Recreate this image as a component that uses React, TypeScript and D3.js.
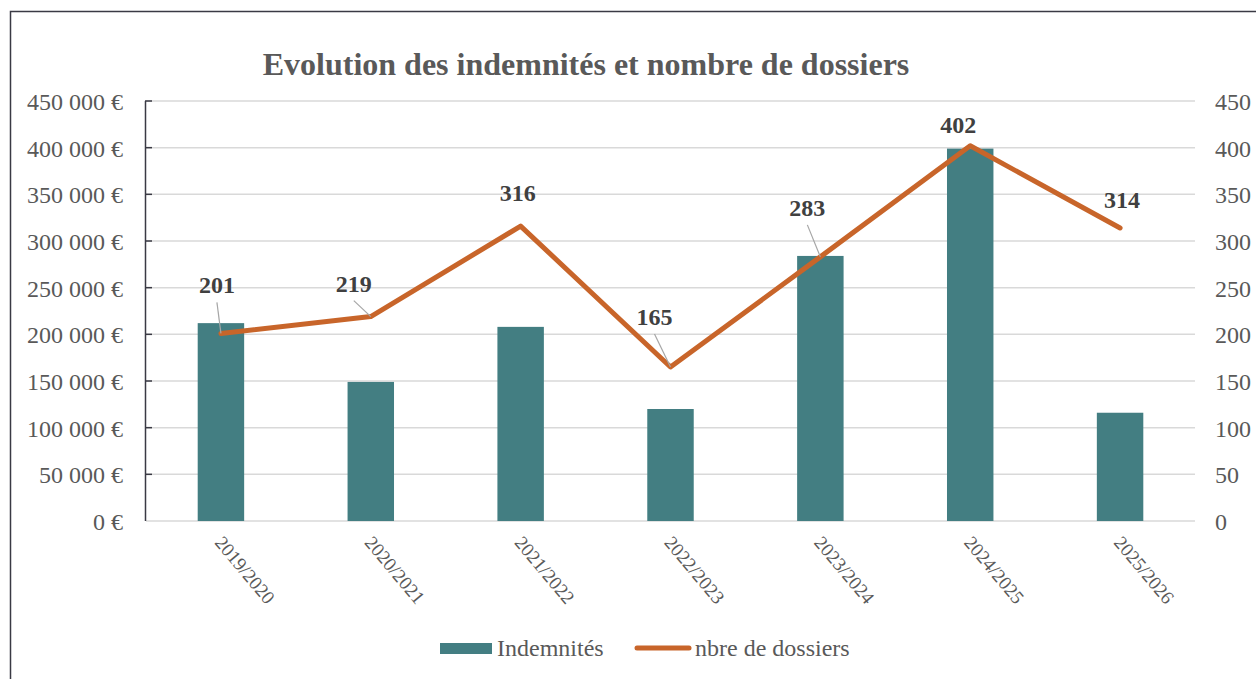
import React from "react";
import * as d3 from "d3";

const categories = ["2019/2020", "2020/2021", "2021/2022", "2022/2023", "2023/2024", "2024/2025", "2025/2026"];
const indemnites = [212000, 149000, 208000, 120000, 284000, 399000, 116000];
const dossiers = [201, 219, 316, 165, 283, 402, 314];
const leftTicks = [0, 50000, 100000, 150000, 200000, 250000, 300000, 350000, 400000, 450000];
const rightTicks = [0, 50, 100, 150, 200, 250, 300, 350, 400, 450];
// label offsets relative to point (dx, dy of label center/baseline) and whether leader line is drawn
const labelOffsets: [number, number, boolean][] = [
  [-4, -40, true],
  [-17, -25, true],
  [-3, -25, false],
  [-16, -42, true],
  [-13, -41, true],
  [-12, -13, false],
  [2, -20, false],
];

const W = 1256, H = 679;
const left = 146, right = 1195, top = 101, bottom = 521;
const TEAL = "#437E82";
const ORANGE = "#C8652A";
const TXT = "#595959";
const FONT = "'Liberation Serif', 'Times New Roman', serif";

export default function App() {
  const xc = d3.scaleBand<string>().domain(categories).range([left, right]);
  const yL = d3.scaleLinear().domain([0, 450000]).range([bottom, top]);
  const yR = d3.scaleLinear().domain([0, 450]).range([bottom, top]);
  const cx = (c: string) => (xc(c) as number) + xc.bandwidth() / 2;
  const line = d3.line<number>().x((_, i) => cx(categories[i])).y((d) => yR(d));
  const fmt = (v: number) => (v === 0 ? "0 €" : d3.format(",")(v).replace(/,/g, " ") + " €");
  const bw = xc.bandwidth() * 0.31;

  return (
    <svg width={W} height={H} style={{ position: "absolute", left: 0, top: 0, background: "#fff" }} fontFamily={FONT}>
      <rect x={0} y={0} width={W} height={H} fill="#fff" />
      <path d={`M10.5,${H} L10.5,11.5 L${W},11.5`} fill="none" stroke="#3a3a44" strokeWidth={1.5} />
      <text x={586} y={75} textAnchor="middle" fontSize={32} fontWeight="bold" fill={TXT}>
        Evolution des indemnités et nombre de dossiers
      </text>
      {leftTicks.map((t) => (
        <line key={"g" + t} x1={left} x2={right} y1={yL(t)} y2={yL(t)} stroke="#d9d9d9" strokeWidth={1.5} />
      ))}
      <line x1={145.5} x2={145.5} y1={top} y2={bottom} stroke="#3a3a44" strokeWidth={1.5} />
      {leftTicks.filter((t) => t > 0).map((t) => (
        <line key={"t" + t} x1={145} x2={152} y1={yL(t)} y2={yL(t)} stroke="#3a3a44" strokeWidth={1.5} />
      ))}
      {leftTicks.map((t) => (
        <text key={"l" + t} x={123} y={yL(t) + 9} textAnchor="end" fontSize={24} fill={TXT}>
          {fmt(t)}
        </text>
      ))}
      {rightTicks.map((t) => (
        <text key={"r" + t} x={1215} y={yR(t) + 9} textAnchor="start" fontSize={24} fill={TXT}>
          {t}
        </text>
      ))}
      {categories.map((c, i) => (
        <rect key={"b" + c} x={cx(c) - bw / 2} y={yL(indemnites[i])} width={bw} height={bottom - yL(indemnites[i])} fill={TEAL} />
      ))}
      {categories.map((c) => (
        <text key={"x" + c} transform={`translate(${cx(c) - 7},${bottom + 22}) rotate(50)`} fontSize={19} fill={TXT} textAnchor="start">
          {c}
        </text>
      ))}
      <path d={line(dossiers) as string} fill="none" stroke={ORANGE} strokeWidth={5} strokeLinejoin="round" strokeLinecap="round" />
      {dossiers.map((d, i) => {
        const px = cx(categories[i]);
        const py = yR(d);
        const [dx, dy, leader] = labelOffsets[i];
        const lx = px + dx;
        const ly = py + dy;
        return (
          <g key={"d" + i}>
            {leader && <line x1={lx} y1={ly + 9} x2={px} y2={py} stroke="#a6a6a6" strokeWidth={1.2} />}
            <text x={lx} y={ly} textAnchor="middle" fontSize={24} fontWeight="bold" fill="#404040">
              {d}
            </text>
          </g>
        );
      })}
      <rect x={440} y={643} width={52} height={11} fill={TEAL} />
      <text x={497} y={656} fontSize={24} fill={TXT}>Indemnités</text>
      <line x1={637} x2={689} y1={648} y2={648} stroke={ORANGE} strokeWidth={5} strokeLinecap="round" />
      <text x={695} y={656} fontSize={24} fill={TXT}>nbre de dossiers</text>
    </svg>
  );
}
